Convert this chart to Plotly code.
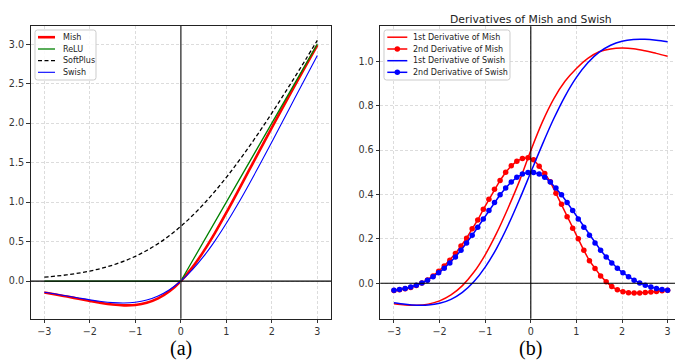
import plotly.graph_objects as go

# ---------------- data ----------------
x_fn = [-3.0, -2.75, -2.5, -2.25, -2.0, -1.75, -1.5, -1.25, -1.0, -0.75, -0.5, -0.25,
        0.0, 0.25, 0.5, 0.75, 1.0, 1.25, 1.5, 1.75, 2.0, 2.25, 2.5, 2.75, 3.0]

mish = [-0.1456, -0.1702, -0.1968, -0.2247, -0.2525, -0.2780, -0.2981, -0.3084, -0.3034,
        -0.2765, -0.2207, -0.1299, 0.0, 0.1696, 0.3752, 0.6100, 0.8651, 1.1319, 1.4034,
        1.6749, 1.9440, 2.2095, 2.4714, 2.7302, 2.9865]
relu = [0.0, 0.0, 0.0, 0.0, 0.0, 0.0, 0.0, 0.0, 0.0, 0.0, 0.0, 0.0,
        0.0, 0.25, 0.5, 0.75, 1.0, 1.25, 1.5, 1.75, 2.0, 2.25, 2.5, 2.75, 3.0]
softplus = [0.0486, 0.0620, 0.0789, 0.1002, 0.1269, 0.1602, 0.2014, 0.2519, 0.3133, 0.3869,
            0.4741, 0.5759, 0.6931, 0.8259, 0.9741, 1.1369, 1.3133, 1.5019, 1.7014, 1.9102,
            2.1269, 2.3502, 2.5789, 2.8120, 3.0486]
swish = [-0.1423, -0.1652, -0.1896, -0.2145, -0.2384, -0.2591, -0.2736, -0.2784, -0.2689,
         -0.2406, -0.1888, -0.1095, 0.0, 0.1405, 0.3112, 0.5094, 0.7311, 0.9716, 1.2264,
         1.4909, 1.7616, 2.0355, 2.3104, 2.5848, 2.8577]

mish_d1 = [-0.093, -0.0985, -0.0996, -0.0943, -0.0798, -0.053, -0.0108, 0.0491, 0.1282,
           0.2255, 0.338, 0.460, 0.598, 0.725, 0.830, 0.910, 0.968, 1.013, 1.043, 1.056,
           1.060, 1.057, 1.048, 1.036, 1.023]
swish_d1 = [-0.0881, -0.0952, -0.0994, -0.0987, -0.0908, -0.0727, -0.0413, 0.0063, 0.0723,
            0.1574, 0.2600, 0.3763, 0.5, 0.6237, 0.7400, 0.8426, 0.9277, 0.9937, 1.0413,
            1.0727, 1.0908, 1.0987, 1.0994, 1.0952, 1.0881]

x_d2 = [-3.0, -2.8776, -2.7551, -2.6327, -2.5102, -2.3878, -2.2653, -2.1429, -2.0204, -1.898,
        -1.7755, -1.6531, -1.5306, -1.4082, -1.2857, -1.1633, -1.0408, -0.9184, -0.7959,
        -0.6735, -0.551, -0.4286, -0.3061, -0.1837, -0.0612, 0.0612, 0.1837, 0.3061, 0.4286,
        0.551, 0.6735, 0.7959, 0.9184, 1.0408, 1.1633, 1.2857, 1.4082, 1.5306, 1.6531,
        1.7755, 1.898, 2.0204, 2.1429, 2.2653, 2.3878, 2.5102, 2.6327, 2.7551, 2.8776, 3.0]
mish_d2 = [-0.033, -0.030, -0.025, -0.019, -0.010, 0.001, 0.015, 0.033, 0.054, 0.078,
           0.104, 0.134, 0.168, 0.203, 0.245, 0.285, 0.333, 0.378, 0.424, 0.463,
           0.500, 0.529, 0.550, 0.562, 0.565, 0.557, 0.527, 0.495, 0.457, 0.405,
           0.356, 0.300, 0.248, 0.200, 0.148, 0.101, 0.066, 0.033, 0.006, -0.015,
           -0.030, -0.038, -0.043, -0.044, -0.044, -0.042, -0.040, -0.037, -0.034, -0.032]
swish_d2 = [-0.0323, -0.0288, -0.0239, -0.0175, -0.0093, 0.0011, 0.0137, 0.0289, 0.0468, 0.0676,
            0.0916, 0.1185, 0.1483, 0.1808, 0.2157, 0.2523, 0.2898, 0.3274, 0.3640, 0.3984,
            0.4295, 0.4562, 0.4771, 0.4917, 0.4991, 0.4991, 0.4917, 0.4771, 0.4562, 0.4295,
            0.3984, 0.3640, 0.3274, 0.2898, 0.2523, 0.2157, 0.1808, 0.1483, 0.1185, 0.0916,
            0.0676, 0.0468, 0.0289, 0.0137, 0.0011, -0.0093, -0.0175, -0.0239, -0.0288, -0.0323]

x_ticks = [-3, -2, -1, 0, 1, 2, 3]
y_ticks_a = [0.0, 0.5, 1.0, 1.5, 2.0, 2.5, 3.0]
y_ticks_b = [0.0, 0.2, 0.4, 0.6, 0.8, 1.0]

title_b = "Derivatives of Mish and Swish"
caption_a = "(a)"
caption_b = "(b)"

# ---------------- figure ----------------
W, H = 683, 360
FONT = "DejaVu Sans"
fig = go.Figure()

RED, GREEN, BLACK, BLUE = "#ff0000", "#008000", "#000000", "#0000ff"

left_series = [
    ("Mish", mish, dict(color=RED, width=2.6, shape="spline")),
    ("ReLU", relu, dict(color=GREEN, width=1.3)),
    ("SoftPlus", softplus, dict(color=BLACK, width=1.3, dash="4px,2.5px", shape="spline")),
    ("Swish", swish, dict(color=BLUE, width=1.1, shape="spline")),
]
for name, ys, line in left_series:
    fig.add_trace(go.Scatter(x=x_fn, y=ys, name=name, mode="lines", line=line,
                             xaxis="x", yaxis="y", showlegend=False))

right_series = [
    ("1st Derivative of Mish", x_fn, mish_d1, RED, False),
    ("2nd Derivative of Mish", x_d2, mish_d2, RED, True),
    ("1st Derivative of Swish", x_fn, swish_d1, BLUE, False),
    ("2nd Derivative of Swish", x_d2, swish_d2, BLUE, True),
]
for name, xs, ys, col, mk in right_series:
    if mk:
        fig.add_trace(go.Scatter(x=xs, y=ys, name=name, mode="lines+markers",
                                 line=dict(color=col, width=1.5), marker=dict(color=col, size=5.5),
                                 xaxis="x2", yaxis="y2", showlegend=False))
    else:
        fig.add_trace(go.Scatter(x=xs, y=ys, name=name, mode="lines",
                                 line=dict(color=col, width=1.5, shape="spline"),
                                 xaxis="x2", yaxis="y2", showlegend=False))


def px_x(p):
    return p / W


def px_y(p):
    return 1 - p / H


axis_common = dict(
    showline=True, linecolor="#222222", linewidth=1.3, mirror=True,
    showgrid=True, gridcolor="#dcdcdc", gridwidth=1, griddash="3px,2px",
    zeroline=False, ticks="outside", ticklen=3.5, tickwidth=1, tickcolor="#333333",
    tickfont=dict(family=FONT, size=9.6, color="#333333"), automargin=False,
)

fig.update_layout(
    width=W, height=H, margin=dict(l=0, r=0, t=0, b=0),
    paper_bgcolor="white", plot_bgcolor="white",
    font=dict(family=FONT, color="#222222"),
    xaxis=dict(domain=[px_x(22.7), px_x(323)], range=[-3.3, 3.3], tickvals=x_ticks, anchor="y", **axis_common),
    yaxis=dict(domain=[px_y(310.7), px_y(18)], range=[-0.477, 3.23], tickvals=y_ticks_a, tickformat=".1f",
               anchor="x", **axis_common),
    xaxis2=dict(domain=[px_x(372.3), px_x(673.3)], range=[-3.3, 3.3], tickvals=x_ticks, anchor="y2", **axis_common),
    yaxis2=dict(domain=[px_y(310.7), px_y(18.3)], range=[-0.16, 1.158], tickvals=y_ticks_b, tickformat=".1f",
                anchor="x2", **axis_common),
    showlegend=False,
)

# zero reference lines
fig.add_shape(type="line", xref="x", yref="y domain", x0=0, x1=0, y0=0, y1=1,
              line=dict(color="#555555", width=1.6), layer="above")
fig.add_shape(type="line", xref="x domain", yref="y", x0=0, x1=1, y0=0, y1=0,
              line=dict(color="#000000", width=1.2), layer="above")
fig.add_shape(type="line", xref="x2", yref="y2 domain", x0=0, x1=0, y0=0, y1=1,
              line=dict(color="#000000", width=1.1), layer="above")
fig.add_shape(type="line", xref="x2 domain", yref="y2", x0=0, x1=1, y0=0, y1=0,
              line=dict(color="#000000", width=1.1), layer="above")


# ---------------- hand-drawn legends (matplotlib style) ----------------
def rounded_box(x0, y0, x1, y1, r=2.5):
    X = lambda p: f"{px_x(p):.5f}"
    Y = lambda p: f"{px_y(p):.5f}"
    return (f"M {X(x0 + r)},{Y(y0)} L {X(x1 - r)},{Y(y0)} Q {X(x1)},{Y(y0)} {X(x1)},{Y(y0 + r)} "
            f"L {X(x1)},{Y(y1 - r)} Q {X(x1)},{Y(y1)} {X(x1 - r)},{Y(y1)} "
            f"L {X(x0 + r)},{Y(y1)} Q {X(x0)},{Y(y1)} {X(x0)},{Y(y1 - r)} "
            f"L {X(x0)},{Y(y0 + r)} Q {X(x0)},{Y(y0)} {X(x0 + r)},{Y(y0)} Z")


def draw_legend(box, entries, row_y, sample_x0, sample_x1, text_x):
    fig.add_shape(type="path", xref="paper", yref="paper", path=rounded_box(*box),
                  line=dict(color="#cccccc", width=1), fillcolor="rgba(255,255,255,0.85)", layer="above")
    for (label, line, marker), yy in zip(entries, row_y):
        fig.add_shape(type="line", xref="paper", yref="paper",
                      x0=px_x(sample_x0), x1=px_x(sample_x1), y0=px_y(yy), y1=px_y(yy),
                      line=line, layer="above")
        if marker:
            cx = (sample_x0 + sample_x1) / 2
            rr = 2.75
            fig.add_shape(type="circle", xref="paper", yref="paper",
                          x0=px_x(cx - rr), x1=px_x(cx + rr), y0=px_y(yy + rr), y1=px_y(yy - rr),
                          line=dict(color=marker, width=0), fillcolor=marker, layer="above")
        fig.add_annotation(text=label, x=px_x(text_x), y=px_y(yy), xref="paper", yref="paper",
                           showarrow=False, xanchor="left", yanchor="middle",
                           font=dict(family=FONT, size=8, color="#222222"))


rows = [29.2, 41.0, 52.7, 64.3]
draw_legend((27, 22, 88, 72),
            [(name, dict(color=ln["color"], width=ln["width"], dash=ln.get("dash", "solid")), None)
             for name, _, ln in left_series],
            rows, 30, 47, 52.7)
draw_legend((376, 22, 502, 72),
            [(name, dict(color=col, width=1.5), col if mk else None) for name, _, _, col, mk in right_series],
            rows, 379.3, 399.3, 402.7)

# title and captions
fig.add_annotation(text=title_b, x=px_x(522.7), y=px_y(11.5), xref="paper", yref="paper",
                   showarrow=False, xanchor="center", yanchor="middle",
                   font=dict(family=FONT, size=10.8, color="#222222"))
fig.add_annotation(text=caption_a, x=px_x(172.7), y=px_y(340), xref="paper", yref="paper",
                   showarrow=False, xanchor="center", yanchor="middle",
                   font=dict(family="Liberation Serif", size=20, color="#000000"))
fig.add_annotation(text=caption_b, x=px_x(522.7), y=px_y(340), xref="paper", yref="paper",
                   showarrow=False, xanchor="center", yanchor="middle",
                   font=dict(family="Liberation Serif", size=20, color="#000000"))

fig.write_html("out.html")
